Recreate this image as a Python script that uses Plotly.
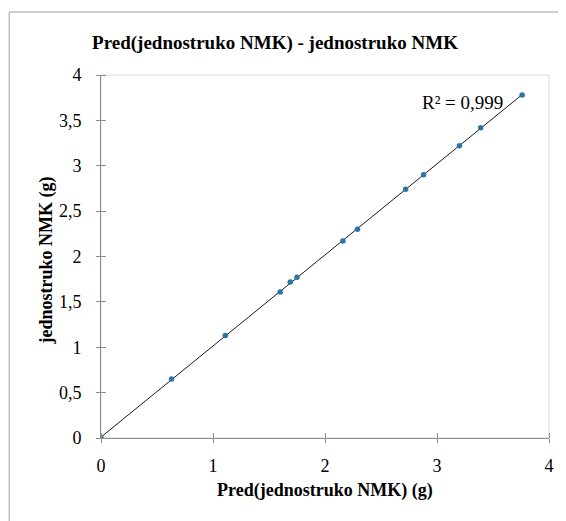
import numpy as np
import plotly.graph_objects as go

# Data
pred_x = [0, 0.63, 1.11, 1.60, 1.69, 1.75, 2.16, 2.29, 2.72, 2.88, 3.20, 3.39, 3.76]
actual_y = [0, 0.65, 1.13, 1.61, 1.72, 1.77, 2.17, 2.30, 2.74, 2.90, 3.22, 3.42, 3.78]
x_ticks = [0, 1, 2, 3, 4]
y_ticks = [0, 0.5, 1, 1.5, 2, 2.5, 3, 3.5, 4]
title_text = "Pred(jednostruko NMK) - jednostruko NMK"
x_title = "Pred(jednostruko NMK) (g)"
y_title = "jednostruko NMK (g)"
r2_text = "R² = 0,999"

slope, intercept = np.polyfit(pred_x, actual_y, 1)
line_x = [min(pred_x), max(pred_x)]
line_y = [slope * v + intercept for v in line_x]

OFF = 8  # page body margin
W, H = 558, 513
L, R, T, B = 93, 13, 67, 83
pw, ph = W - L - R, H - T - B

fig = go.Figure()
fig.add_trace(go.Scatter(x=line_x, y=line_y, mode="lines",
                         line=dict(color="#1a1a1a", width=1), hoverinfo="skip"))
fig.add_trace(go.Scatter(x=pred_x, y=actual_y, mode="markers",
                         marker=dict(color="#2a74a6", size=5.5)))

serif = "Liberation Serif"
axis_common = dict(showgrid=False, zeroline=False, showline=True, linecolor="#8c8c8c",
                   linewidth=1, ticks="outside", ticklen=4, tickcolor="#8c8c8c",
                   tickfont=dict(family=serif, size=18, color="#000"))

fig.update_layout(
    width=W, height=H,
    margin=dict(l=L, r=R, t=T, b=B),
    paper_bgcolor="white", plot_bgcolor="white",
    showlegend=False,
    separators=", ",
    title=dict(text="<b>" + title_text + "</b>", x=(275 - OFF) / W, xanchor="center",
               y=1 - (42 - OFF) / H, yanchor="middle", yref="container",
               font=dict(family=serif, size=19, color="#000")),
    xaxis=dict(range=[0, 4], tickvals=x_ticks,
               minor=dict(ticks="inside", ticklen=5, tickcolor="#8c8c8c", dtick=1, tick0=0),
               **axis_common),
    yaxis=dict(range=[0, 4], tickvals=y_ticks, tickformat=".1~f",
               minor=dict(ticks="inside", ticklen=5, tickcolor="#8c8c8c", dtick=0.5, tick0=0),
               **axis_common),
)
fig.update_yaxes(ticklabelstandoff=11)
fig.update_xaxes(ticklabelstandoff=7)

# plot area border (light grey)
fig.add_shape(type="rect", xref="paper", yref="paper", x0=0, y0=0, x1=1, y1=1,
              line=dict(color="#d9d9d9", width=1), layer="below")
# outer chart border (top and left visible)
ox0 = (0.5 - L) / pw
oy1 = (H - B - (12 - OFF)) / ph
fig.add_shape(type="line", xref="paper", yref="paper", x0=ox0, x1=(W + 5 - L) / pw, y0=oy1, y1=oy1,
              line=dict(color="#bfbfbf", width=1.5))
fig.add_shape(type="line", xref="paper", yref="paper", x0=ox0, x1=ox0, y0=oy1, y1=-(B + 5) / ph,
              line=dict(color="#bfbfbf", width=1.5))

fig.add_annotation(text=r2_text, x=3.23, y=3.70, xref="x", yref="y", showarrow=False,
                   font=dict(family=serif, size=19, color="#000"))
fig.add_annotation(text="<b>" + x_title + "</b>", x=0.5,
                   y=-((490 - OFF) - (H - B)) / ph,
                   xref="paper", yref="paper", showarrow=False, xanchor="center", yanchor="middle",
                   font=dict(family=serif, size=18, color="#000"))
fig.add_annotation(text="<b>" + y_title + "</b>", x=(47 - OFF - L) / pw,
                   y=(H - B - (260 - OFF)) / ph,
                   xref="paper", yref="paper", showarrow=False, textangle=-90,
                   xanchor="center", yanchor="middle",
                   font=dict(family=serif, size=18, color="#000"))

fig.write_html("out.html")
